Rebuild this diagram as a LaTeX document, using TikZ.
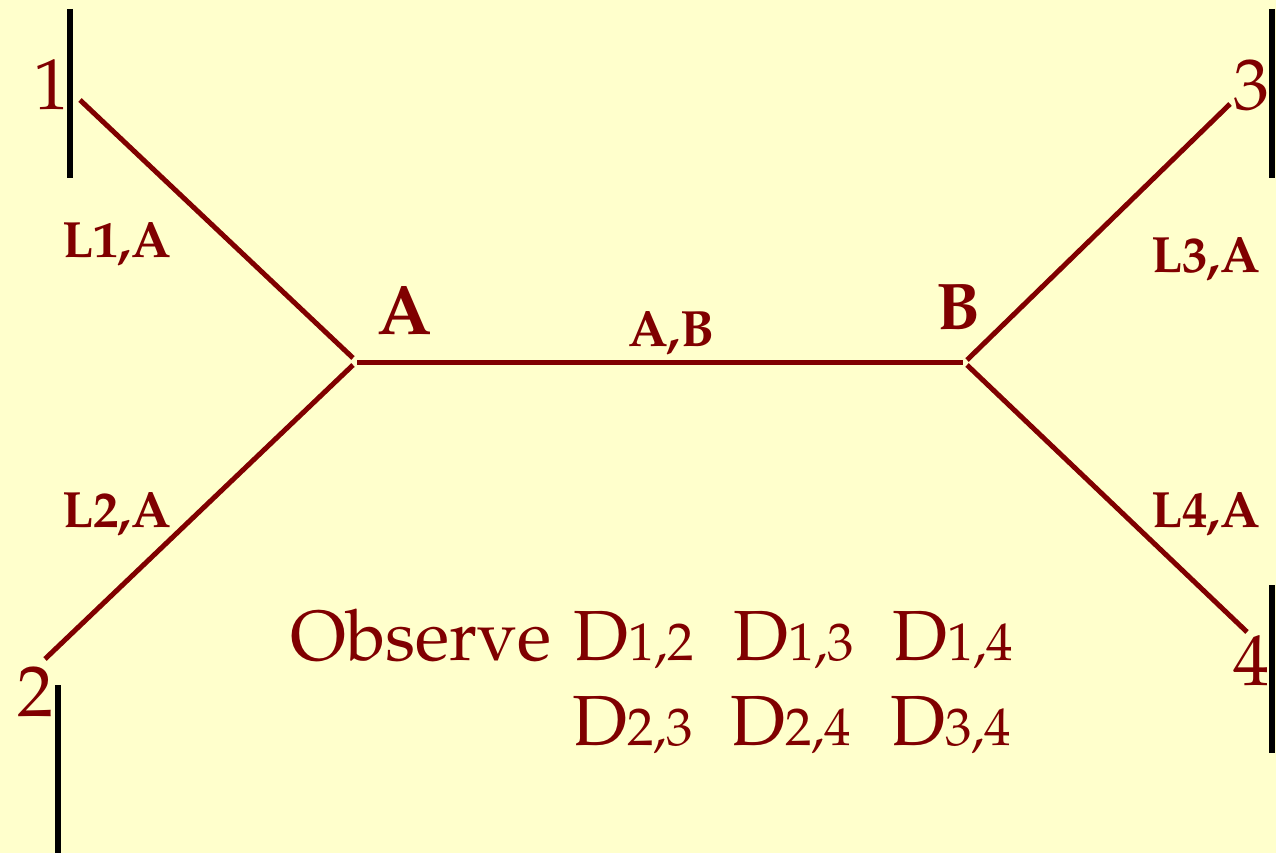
\documentclass[tikz,border=0pt]{standalone}
\usepackage[T1]{fontenc}
\usepackage{mathpazo}
\definecolor{bg}{RGB}{255,255,204}
\definecolor{dred}{RGB}{128,0,0}
\newcommand{\dsub}[1]{{\fontsize{53}{53}\selectfont #1}}
\begin{document}
\begin{tikzpicture}[x=1pt,y=-1pt,
  edge/.style={draw=dred,line width=5pt},
  bar/.style={draw=black,line width=6pt},
  leaf/.style={text=dred,font=\fontsize{72}{72}\selectfont,inner sep=0pt},
  blab/.style={text=dred,font=\fontsize{51}{51}\selectfont\bfseries,inner sep=0pt,anchor=base west},
  obs/.style={text=dred,font=\fontsize{71}{71}\selectfont,inner sep=0pt,anchor=base west}]
\fill[bg] (0,0) rectangle (1276,853);
\useasboundingbox (0,0) rectangle (1276,853);
% end points
\coordinate (t1) at (80,100);
\coordinate (t2) at (45,659);
\coordinate (t3) at (1230,104);
\coordinate (t4) at (1247,632);
\coordinate (a1) at (353,358);
\coordinate (a2) at (353,365);
\coordinate (a3) at (357,362);
\coordinate (b3) at (963,362);
\coordinate (b1) at (967,360);
\coordinate (b2) at (967,365);
% tree edges
\draw[edge] (t1) -- (a1);
\draw[edge] (t2) -- (a2);
\draw[edge] (a3) -- (b3);
\draw[edge] (b1) -- (t3);
\draw[edge] (b2) -- (t4);
% black bars
\coordinate (p1a) at (70,9);   \coordinate (p1b) at (70,178);
\coordinate (p2a) at (58,685); \coordinate (p2b) at (58,853);
\coordinate (p3a) at (1272,9); \coordinate (p3b) at (1272,178);
\coordinate (p4a) at (1272,585); \coordinate (p4b) at (1272,753);
\draw[bar] (p1a) -- (p1b);
\draw[bar] (p2a) -- (p2b);
\draw[bar] (p3a) -- (p3b);
\draw[bar] (p4a) -- (p4b);
% leaf numbers
\node[leaf] (n1) at (51,85) {1};
\node[leaf] (n2) at (35,692) {2};
\node[leaf] (n3) at (1251,85) {3};
\node[leaf] (n4) at (1251,661) {4};
% bold labels
\node[blab] (l1) at (62,257) {L1,A};
\node[blab] (l2) at (62,527) {L2,A};
\node[blab] (l3) at (1151,272) {L3,A};
\node[blab] (l4) at (1151,527) {L4,A};
\node[blab] (lab) at (628,346) {A,B};
\node[blab,font=\fontsize{70}{70}\selectfont\bfseries] (na) at (377,334) {A};
\node[blab,font=\fontsize{66}{66}\selectfont\bfseries] (nb) at (936,329) {B};
% observe text
\node[obs] (obs) at (290,660) {Observe};
\node[obs] (d12) at (573,660) {D\dsub{1,2}};
\node[obs] (d13) at (733,660) {D\dsub{1,3}};
\node[obs] (d14) at (892,660) {D\dsub{1,4}};
\node[obs] (d23) at (572,745) {D\dsub{2,3}};
\node[obs] (d24) at (730,745) {D\dsub{2,4}};
\node[obs] (d34) at (890,745) {D\dsub{3,4}};
\end{tikzpicture}
\end{document}
